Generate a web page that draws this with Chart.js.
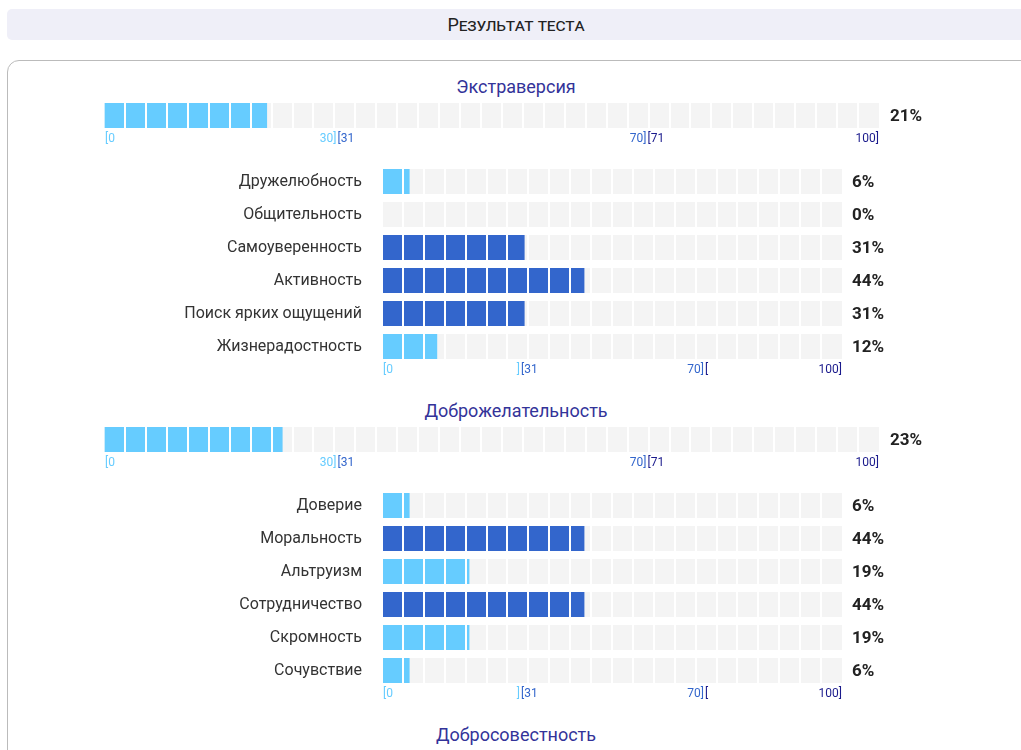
<!DOCTYPE html>
<html>
<head>
<meta charset="utf-8">
<script src="https://cdn.jsdelivr.net/npm/chart.js@4/dist/chart.umd.min.js"></script>
<style>
  html, body { margin: 0; padding: 0; background: #fff; }
  body { width: 1021px; height: 750px; position: relative; overflow: hidden; font-family: Roboto, "Noto Sans", sans-serif; }
  .header { position: absolute; left: 7px; top: 9px; width: 1018px; height: 31px; background: #efeff8; border-radius: 5px;
            text-align: center; line-height: 31px; font-size: 18px; font-variant: small-caps; color: #222; letter-spacing: -0.2px; }
  .card { position: absolute; left: 7px; top: 60px; width: 1040px; height: 800px; border: 1px solid #bbb; border-radius: 12px; box-sizing: border-box; }
  .title { position: absolute; left: 0; width: 1032px; text-align: center; font-size: 18px; line-height: 24px; color: #333399; }
  canvas { position: absolute; left: 0; }
</style>
</head>
<body>
<div class="header">Результат теста</div>
<div class="card"></div>
<div id="root"></div>
<script>
// ---- data ----
const sectionTitles = ['Экстраверсия', 'Доброжелательность', 'Добросовестность'];

const extraversionTotal = 21;
const extraversionLabels = ['Дружелюбность', 'Общительность', 'Самоуверенность', 'Активность', 'Поиск ярких ощущений', 'Жизнерадостность'];
const extraversionValues = [6, 0, 31, 44, 31, 12];

const agreeablenessTotal = 23;
const agreeablenessLabels = ['Доверие', 'Моральность', 'Альтруизм', 'Сотрудничество', 'Скромность', 'Сочувствие'];
const agreeablenessValues = [6, 44, 19, 44, 19, 6];

const mainRangeLabels = ['[0', '30]', '[31', '70]', '[71', '100]'];
const subRangeLabels  = ['[0', ']', '[31', '70]', '[', '100]'];
const rangeBounds = [0, 30, 30, 70, 70, 100];

const mainSegments = 37;
const subSegments = 22;

// ---- styles ----
const LOW = '#66ccff', MID = '#3366cc', HIGH = '#1a1a8c';
const TRACK = '#f4f4f4';
const rangeColors = [LOW, LOW, MID, MID, HIGH, HIGH];
const rangeAlign = ['left', 'right', 'left', 'right', 'left', 'right'];
function colorFor(v) { return v <= 30 ? LOW : (v <= 70 ? MID : HIGH); }

const percentPlugin = {
  id: 'percent',
  afterDraw(chart, args, opts) {
    const ctx = chart.ctx, meta = chart.getDatasetMeta(0);
    const vals = chart.data.datasets[0].data;
    ctx.save();
    ctx.font = 'bold 17px Roboto, sans-serif';
    ctx.fillStyle = '#222';
    ctx.textAlign = 'left';
    ctx.textBaseline = 'middle';
    meta.data.forEach((el, i) => {
      ctx.fillText(vals[i] + '%', chart.chartArea.right + opts.offset, el.y + 1);
    });
    ctx.restore();
  }
};

const rangePlugin = {
  id: 'ranges',
  afterDraw(chart, args, opts) {
    const ctx = chart.ctx, xs = chart.scales.x;
    ctx.save();
    ctx.font = '12px Roboto, sans-serif';
    ctx.textBaseline = 'middle';
    opts.labels.forEach((t, i) => {
      ctx.fillStyle = rangeColors[i];
      ctx.textAlign = rangeAlign[i];
      const x = xs.getPixelForValue(rangeBounds[i]) + (rangeAlign[i] === 'left' ? 1 : 0);
      ctx.fillText(t, x, chart.chartArea.bottom + opts.dy);
    });
    ctx.restore();
  }
};

function xScale(n) {
  return {
    type: 'linear', min: 0, max: 100,
    afterBuildTicks: s => { s.ticks = Array.from({ length: n + 1 }, (_, i) => ({ value: i * 100 / n })); },
    afterFit: s => { s.height = 0; },
    ticks: { display: false },
    border: { display: false },
    grid: { z: 1, drawTicks: false, lineWidth: 2, color: c => (c.index === 0 || c.index === n) ? 'rgba(0,0,0,0)' : '#ffffff' }
  };
}

function makeCanvas(top, h) {
  const c = document.createElement('canvas');
  c.width = 1021; c.height = h;
  c.style.width = '1021px'; c.style.height = h + 'px';
  c.style.top = top + 'px';
  document.getElementById('root').appendChild(c);
  return c;
}

function addTitle(text, top) {
  const d = document.createElement('div');
  d.className = 'title';
  d.style.top = top + 'px';
  d.textContent = text;
  document.getElementById('root').appendChild(d);
}

function mainChart(top, value) {
  const c = makeCanvas(top, 50);
  new Chart(c, {
    type: 'bar',
    data: {
      labels: [''],
      datasets: [
        { data: [value], backgroundColor: [colorFor(value)], order: 0, grouped: false, barPercentage: 1, categoryPercentage: 1 },
        { data: [100], backgroundColor: TRACK, order: 1, grouped: false, barPercentage: 1, categoryPercentage: 1 }
      ]
    },
    options: {
      indexAxis: 'y', responsive: false, animation: false, events: [],
      layout: { padding: { left: 104, right: 142, top: 5, bottom: 20 } },
      scales: { x: xScale(mainSegments), y: { display: false } },
      plugins: { legend: { display: false }, tooltip: { enabled: false },
                 percent: { offset: 11 }, ranges: { labels: mainRangeLabels, dy: 10.5 } }
    },
    plugins: [percentPlugin, rangePlugin]
  });
}

function subChart(top, labels, values) {
  const c = makeCanvas(top, 5 + labels.length * 33 + 20);
  new Chart(c, {
    type: 'bar',
    data: {
      labels: labels,
      datasets: [
        { data: values, backgroundColor: values.map(colorFor), order: 0, grouped: false, barPercentage: 25 / 33, categoryPercentage: 1 },
        { data: values.map(() => 100), backgroundColor: TRACK, order: 1, grouped: false, barPercentage: 25 / 33, categoryPercentage: 1 }
      ]
    },
    options: {
      indexAxis: 'y', responsive: false, animation: false, events: [],
      layout: { padding: { left: 0, right: 179, top: 5, bottom: 20 } },
      scales: {
        x: xScale(subSegments),
        y: {
          afterFit: s => { s.width = 382; s.paddingTop = 0; s.paddingBottom = 0; },
          border: { display: false },
          grid: { display: false, drawTicks: false },
          ticks: { padding: 20, color: '#333', font: { family: 'Roboto', size: 16 } }
        }
      },
      plugins: { legend: { display: false }, tooltip: { enabled: false },
                 percent: { offset: 10 }, ranges: { labels: subRangeLabels, dy: 7 } }
    },
    plugins: [percentPlugin, rangePlugin]
  });
}

// Section 1
addTitle(sectionTitles[0], 75);
mainChart(98, extraversionTotal);
subChart(160, extraversionLabels, extraversionValues);
// Section 2
addTitle(sectionTitles[1], 399);
mainChart(422, agreeablenessTotal);
subChart(484, agreeablenessLabels, agreeablenessValues);
// Section 3 (title only visible)
addTitle(sectionTitles[2], 723);
</script>
</body>
</html>
